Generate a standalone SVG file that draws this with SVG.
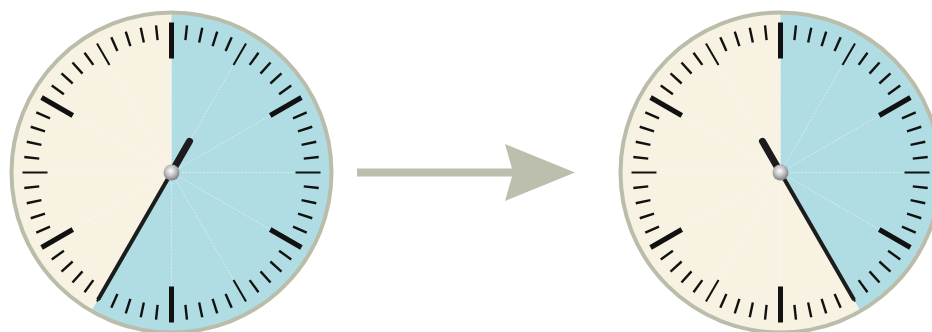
<svg xmlns="http://www.w3.org/2000/svg" xmlns:xlink="http://www.w3.org/1999/xlink" width="932" height="332" viewBox="0 0 932 332">
<style>
.face{fill:#f7f2e1}
.blue{fill:#afdde3}
.ring{fill:none;stroke:#bbbdab;stroke-width:4}
.rad{stroke:#ffffff;stroke-width:0.8;stroke-opacity:0.55;stroke-dasharray:2 1.5}
.mn{stroke:#111;stroke-width:2.4}
.md{stroke:#111;stroke-width:2}
.mj{stroke:#111;stroke-width:5}
.hand{stroke:#1c1c1c;stroke-width:4;stroke-linecap:butt}
.tail{stroke:#1c1c1c;stroke-width:7;stroke-linecap:round}
.arrow{fill:#bcbfad}
</style>
<defs>
<radialGradient id="capg" cx="0.45" cy="0.4" r="0.6">
<stop offset="0" stop-color="#ffffff"/>
<stop offset="0.5" stop-color="#c4c4c4"/>
<stop offset="1" stop-color="#7d7d7d"/>
</radialGradient>
<g id="radials">
<line class="rad" x1="0" y1="0" x2="0" y2="-114" transform="rotate(0)"/>
<line class="rad" x1="0" y1="0" x2="0" y2="-124" transform="rotate(30)"/>
<line class="rad" x1="0" y1="0" x2="0" y2="-114" transform="rotate(60)"/>
<line class="rad" x1="0" y1="0" x2="0" y2="-124" transform="rotate(90)"/>
<line class="rad" x1="0" y1="0" x2="0" y2="-114" transform="rotate(120)"/>
<line class="rad" x1="0" y1="0" x2="0" y2="-124" transform="rotate(150)"/>
<line class="rad" x1="0" y1="0" x2="0" y2="-114" transform="rotate(180)"/>
<line class="rad" x1="0" y1="0" x2="0" y2="-124" transform="rotate(210)"/>
<line class="rad" x1="0" y1="0" x2="0" y2="-114" transform="rotate(240)"/>
<line class="rad" x1="0" y1="0" x2="0" y2="-124" transform="rotate(270)"/>
<line class="rad" x1="0" y1="0" x2="0" y2="-114" transform="rotate(300)"/>
<line class="rad" x1="0" y1="0" x2="0" y2="-124" transform="rotate(330)"/>
</g>
<g id="ticks">
<line class="mj" x1="0" y1="-150" x2="0" y2="-114" transform="rotate(0)"/>
<line class="mn" x1="0" y1="-148" x2="0" y2="-133" transform="rotate(6)"/>
<line class="mn" x1="0" y1="-148" x2="0" y2="-133" transform="rotate(12)"/>
<line class="mn" x1="0" y1="-148" x2="0" y2="-133" transform="rotate(18)"/>
<line class="mn" x1="0" y1="-148" x2="0" y2="-133" transform="rotate(24)"/>
<line class="md" x1="0" y1="-149" x2="0" y2="-124" transform="rotate(30)"/>
<line class="mn" x1="0" y1="-148" x2="0" y2="-133" transform="rotate(36)"/>
<line class="mn" x1="0" y1="-148" x2="0" y2="-133" transform="rotate(42)"/>
<line class="mn" x1="0" y1="-148" x2="0" y2="-133" transform="rotate(48)"/>
<line class="mn" x1="0" y1="-148" x2="0" y2="-133" transform="rotate(54)"/>
<line class="mj" x1="0" y1="-150" x2="0" y2="-114" transform="rotate(60)"/>
<line class="mn" x1="0" y1="-148" x2="0" y2="-133" transform="rotate(66)"/>
<line class="mn" x1="0" y1="-148" x2="0" y2="-133" transform="rotate(72)"/>
<line class="mn" x1="0" y1="-148" x2="0" y2="-133" transform="rotate(78)"/>
<line class="mn" x1="0" y1="-148" x2="0" y2="-133" transform="rotate(84)"/>
<line class="md" x1="0" y1="-149" x2="0" y2="-124" transform="rotate(90)"/>
<line class="mn" x1="0" y1="-148" x2="0" y2="-133" transform="rotate(96)"/>
<line class="mn" x1="0" y1="-148" x2="0" y2="-133" transform="rotate(102)"/>
<line class="mn" x1="0" y1="-148" x2="0" y2="-133" transform="rotate(108)"/>
<line class="mn" x1="0" y1="-148" x2="0" y2="-133" transform="rotate(114)"/>
<line class="mj" x1="0" y1="-150" x2="0" y2="-114" transform="rotate(120)"/>
<line class="mn" x1="0" y1="-148" x2="0" y2="-133" transform="rotate(126)"/>
<line class="mn" x1="0" y1="-148" x2="0" y2="-133" transform="rotate(132)"/>
<line class="mn" x1="0" y1="-148" x2="0" y2="-133" transform="rotate(138)"/>
<line class="mn" x1="0" y1="-148" x2="0" y2="-133" transform="rotate(144)"/>
<line class="md" x1="0" y1="-149" x2="0" y2="-124" transform="rotate(150)"/>
<line class="mn" x1="0" y1="-148" x2="0" y2="-133" transform="rotate(156)"/>
<line class="mn" x1="0" y1="-148" x2="0" y2="-133" transform="rotate(162)"/>
<line class="mn" x1="0" y1="-148" x2="0" y2="-133" transform="rotate(168)"/>
<line class="mn" x1="0" y1="-148" x2="0" y2="-133" transform="rotate(174)"/>
<line class="mj" x1="0" y1="-150" x2="0" y2="-114" transform="rotate(180)"/>
<line class="mn" x1="0" y1="-148" x2="0" y2="-133" transform="rotate(186)"/>
<line class="mn" x1="0" y1="-148" x2="0" y2="-133" transform="rotate(192)"/>
<line class="mn" x1="0" y1="-148" x2="0" y2="-133" transform="rotate(198)"/>
<line class="mn" x1="0" y1="-148" x2="0" y2="-133" transform="rotate(204)"/>
<line class="md" x1="0" y1="-149" x2="0" y2="-124" transform="rotate(210)"/>
<line class="mn" x1="0" y1="-148" x2="0" y2="-133" transform="rotate(216)"/>
<line class="mn" x1="0" y1="-148" x2="0" y2="-133" transform="rotate(222)"/>
<line class="mn" x1="0" y1="-148" x2="0" y2="-133" transform="rotate(228)"/>
<line class="mn" x1="0" y1="-148" x2="0" y2="-133" transform="rotate(234)"/>
<line class="mj" x1="0" y1="-150" x2="0" y2="-114" transform="rotate(240)"/>
<line class="mn" x1="0" y1="-148" x2="0" y2="-133" transform="rotate(246)"/>
<line class="mn" x1="0" y1="-148" x2="0" y2="-133" transform="rotate(252)"/>
<line class="mn" x1="0" y1="-148" x2="0" y2="-133" transform="rotate(258)"/>
<line class="mn" x1="0" y1="-148" x2="0" y2="-133" transform="rotate(264)"/>
<line class="md" x1="0" y1="-149" x2="0" y2="-124" transform="rotate(270)"/>
<line class="mn" x1="0" y1="-148" x2="0" y2="-133" transform="rotate(276)"/>
<line class="mn" x1="0" y1="-148" x2="0" y2="-133" transform="rotate(282)"/>
<line class="mn" x1="0" y1="-148" x2="0" y2="-133" transform="rotate(288)"/>
<line class="mn" x1="0" y1="-148" x2="0" y2="-133" transform="rotate(294)"/>
<line class="mj" x1="0" y1="-150" x2="0" y2="-114" transform="rotate(300)"/>
<line class="mn" x1="0" y1="-148" x2="0" y2="-133" transform="rotate(306)"/>
<line class="mn" x1="0" y1="-148" x2="0" y2="-133" transform="rotate(312)"/>
<line class="mn" x1="0" y1="-148" x2="0" y2="-133" transform="rotate(318)"/>
<line class="mn" x1="0" y1="-148" x2="0" y2="-133" transform="rotate(324)"/>
<line class="md" x1="0" y1="-149" x2="0" y2="-124" transform="rotate(330)"/>
<line class="mn" x1="0" y1="-148" x2="0" y2="-133" transform="rotate(336)"/>
<line class="mn" x1="0" y1="-148" x2="0" y2="-133" transform="rotate(342)"/>
<line class="mn" x1="0" y1="-148" x2="0" y2="-133" transform="rotate(348)"/>
<line class="mn" x1="0" y1="-148" x2="0" y2="-133" transform="rotate(354)"/>
</g>
</defs>

<g id="clock-left" transform="translate(171.5,172.5)">
<circle class="face" r="160"/>
<path class="blue" d="M0,0 L0,-160 A160,160 0 1 1 -80,138.56 Z"/>
<use href="#radials"/>
<use href="#ticks"/>
<circle class="ring" r="160"/>
<g transform="rotate(210)">
<line class="hand" x1="0" y1="0" x2="0" y2="-147"/>
<line class="tail" x1="0" y1="0" x2="0" y2="36" />
</g>
<circle r="8" fill="url(#capg)"/>
</g>

<g id="clock-right" transform="translate(780.5,172.5)">
<circle class="face" r="160"/>
<path class="blue" d="M0,0 L0,-160 A160,160 0 0 1 80,138.56 Z"/>
<use href="#radials"/>
<use href="#ticks"/>
<circle class="ring" r="160"/>
<g transform="rotate(150)">
<line class="hand" x1="0" y1="0" x2="0" y2="-147"/>
<line class="tail" x1="0" y1="0" x2="0" y2="36"/>
</g>
<circle r="8" fill="url(#capg)"/>
</g>

<g id="connectors">
<path class="arrow" d="M357,168.5 L512,168.5 L505,144 L575,172.5 L505,201 L512,176.5 L357,176.5 Z"/>
</g>
</svg>
